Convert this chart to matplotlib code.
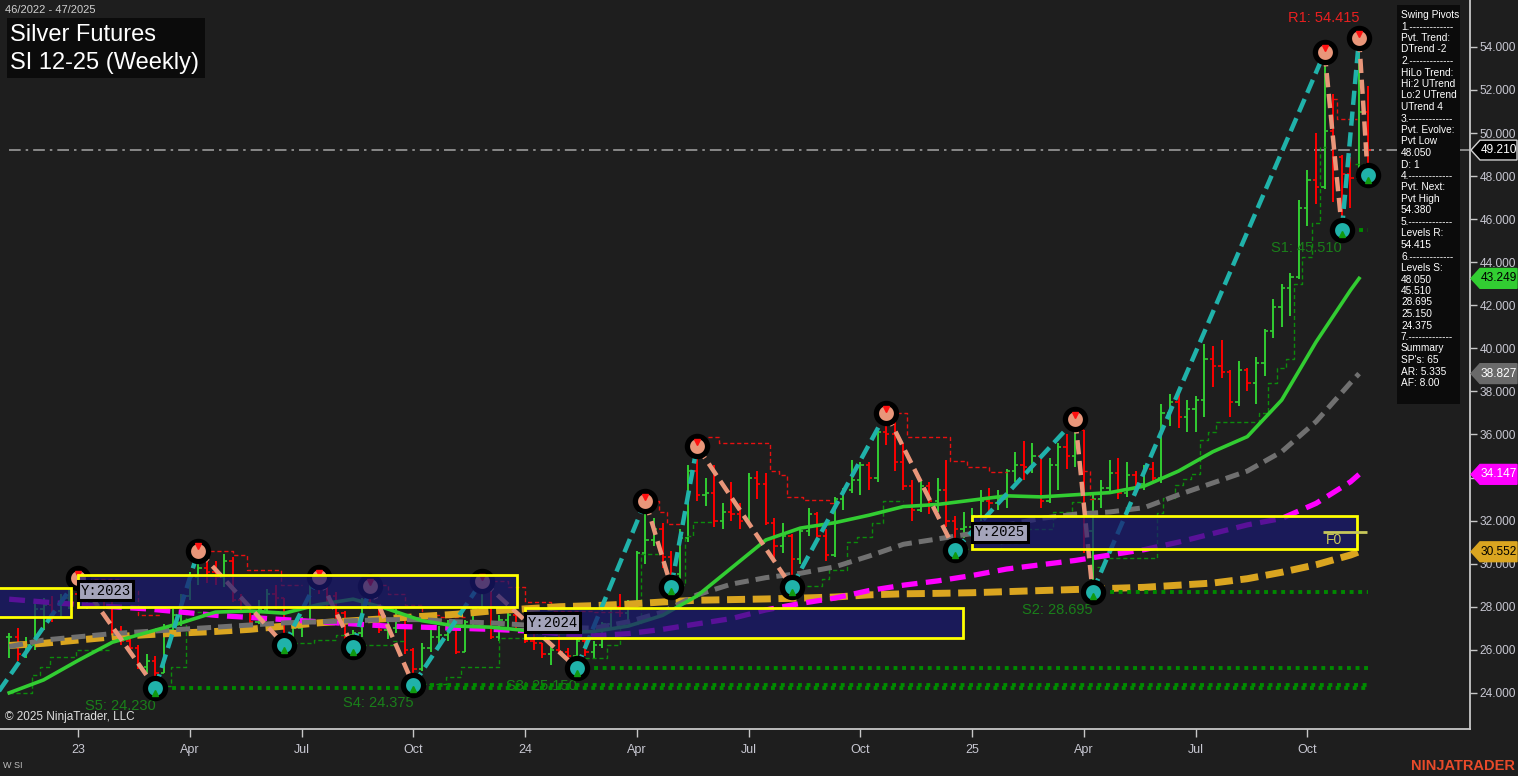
import numpy as np
import pandas as pd
import matplotlib
matplotlib.use("Agg")
import matplotlib.pyplot as plt
from matplotlib.patches import Rectangle, Polygon
from matplotlib import transforms
from matplotlib.ticker import FuncFormatter

plt.rcParams['font.family'] = ['Liberation Sans', 'DejaVu Sans']

# --- weekly OHLC bars (back-adjusted SI 12-25), first bar Fri 2022-11-11
first_bar = '2022-11-11'
bar_high = [26.8, 27.0, 26.6, 28.2, 28.4, 28.5, 28.6, 28.8, 29.34, 29.2,
            29.2, 29.2, 28.6, 27.1, 26.7, 26.2, 25.8, 25.7, 27.2, 27.9,
            28.6, 29.6, 30.6, 30.1, 30.1, 30.45, 30.3, 28.6, 28.1, 28.3,
            28.8, 29.0, 28.4, 27.2, 27.5, 29.2, 29.38, 29.2, 28.7, 27.8,
            26.9, 28.4, 28.97, 28.1, 27.4, 27.9, 27.6, 26.1, 26.3, 26.9,
            27.1, 27.4, 27.0, 27.4, 28.0, 29.2, 29.0, 27.6, 28.0, 27.8,
            27.2, 26.8, 26.3, 26.2, 26.8, 26.1, 26.5, 26.6, 26.4, 27.3,
            28.1, 28.6, 28.3, 30.6, 32.9, 32.1, 31.9, 30.6, 31.6, 34.6,
            35.45, 34.0, 34.6, 32.8, 33.8, 32.8, 34.2, 34.3, 34.2, 32.1,
            31.9, 31.4, 31.6, 32.6, 32.4, 31.6, 33.1, 33.5, 34.8, 34.7,
            34.7, 36.2, 37.0, 36.9, 35.6, 33.9, 33.9, 33.8, 34.0, 34.8,
            32.2, 32.4, 32.6, 33.4, 33.5, 33.4, 34.4, 35.2, 35.7, 35.6,
            35.1, 34.9, 35.6, 36.0, 36.7, 36.2, 33.3, 33.9, 34.8, 34.9,
            34.7, 34.3, 34.6, 34.7, 37.4, 37.9, 37.9, 37.6, 37.8, 40.2,
            40.1, 40.4, 39.0, 39.4, 39.1, 39.6, 40.9, 42.3, 43.0, 43.5,
            46.9, 48.3, 50.0, 53.75, 51.8, 49.0, 48.9, 54.415, 52.2]
bar_low = [25.6, 25.5, 25.6, 26.0, 26.9, 27.3, 27.5, 27.9, 27.9, 27.9,
           28.1, 27.9, 26.7, 26.2, 25.8, 25.1, 24.9, 24.23, 24.9, 26.8,
           27.1, 28.3, 29.0, 29.1, 29.0, 28.9, 28.2, 27.7, 26.9, 27.2,
           27.7, 27.9, 26.22, 26.3, 26.6, 27.3, 28.6, 27.9, 27.4, 26.5,
           26.13, 26.6, 27.9, 26.8, 26.5, 26.8, 25.8, 24.375, 25.0, 25.9,
           26.2, 26.4, 25.8, 25.9, 27.1, 27.7, 26.5, 26.4, 27.0, 27.0,
           26.3, 26.0, 25.6, 25.3, 25.8, 25.6, 25.15, 25.7, 25.6, 26.1,
           27.0, 27.5, 27.4, 28.0, 30.0, 30.8, 29.8, 28.93, 29.3, 31.0,
           32.9, 32.7, 31.7, 31.6, 32.0, 31.6, 31.8, 33.0, 31.8, 30.2,
           30.5, 28.92, 30.0, 31.3, 31.2, 30.1, 30.3, 32.5, 33.3, 33.2,
           33.4, 33.8, 35.5, 34.3, 33.4, 32.0, 32.4, 32.3, 32.4, 31.7,
           30.62, 31.2, 31.5, 32.0, 32.3, 32.5, 32.6, 33.8, 33.9, 34.2,
           32.6, 32.8, 33.4, 34.4, 34.5, 30.5, 28.695, 32.6, 33.3, 33.0,
           33.1, 33.2, 33.4, 33.8, 33.75, 36.4, 36.3, 36.1, 36.1, 36.8,
           38.2, 38.6, 36.8, 37.3, 38.0, 37.4, 38.7, 40.5, 41.0, 41.5,
           43.2, 45.7, 46.7, 47.4, 46.8, 45.51, 46.5, 47.8, 48.05]
bar_close = [26.6, 25.8, 26.2, 27.9, 28.1, 27.8, 28.4, 28.6, 28.4, 29.0,
             28.5, 28.3, 26.8, 26.4, 26.1, 25.2, 25.5, 24.9, 26.9, 27.6,
             28.5, 29.4, 29.8, 29.6, 29.4, 30.1, 28.3, 28.0, 27.3, 27.9,
             28.6, 28.4, 26.6, 27.0, 27.3, 29.1, 28.9, 28.5, 27.7, 26.7,
             26.8, 28.3, 28.1, 26.9, 27.0, 27.5, 26.0, 25.1, 26.1, 26.6,
             26.7, 26.9, 25.9, 27.3, 27.9, 28.9, 26.6, 27.4, 27.6, 27.1,
             26.4, 26.3, 25.8, 26.0, 25.9, 25.7, 26.4, 25.9, 26.2, 27.2,
             28.0, 27.7, 28.1, 30.5, 31.1, 31.6, 30.3, 29.5, 31.2, 34.3,
             33.2, 33.3, 32.0, 32.4, 32.3, 32.0, 34.0, 33.7, 31.9, 30.8,
             31.3, 30.2, 31.5, 32.3, 31.3, 30.4, 33.0, 33.4, 33.9, 34.6,
             34.0, 36.1, 36.0, 34.7, 33.6, 32.5, 33.6, 32.9, 33.4, 32.0,
             31.6, 31.7, 32.2, 32.9, 32.8, 33.0, 34.3, 34.6, 34.5, 35.0,
             32.9, 34.6, 35.4, 35.0, 36.2, 31.5, 33.0, 33.5, 34.2, 33.3,
             34.1, 33.7, 34.4, 34.0, 37.0, 37.5, 36.8, 37.2, 37.6, 39.5,
             39.2, 38.9, 37.5, 39.0, 38.4, 39.3, 40.8, 41.9, 42.8, 43.3,
             46.5, 47.8, 47.5, 50.1, 48.9, 48.1, 47.9, 51.0, 49.21]

# --- moving averages, read every 4 bars (bar offset from first 2023 bar)
ma_pos = list(range(-8, 149, 4)) + [149]
ma_green = [24.0, 24.6, 25.5, 26.35, 26.8, 27.25, 27.75, 27.8, 27.7, 28.1,
            28.35, 27.9, 27.35, 27.1, 27.05, 26.9, 26.8, 26.85, 27.1, 27.6,
            28.5, 29.8, 31.1, 31.65, 31.9, 32.25, 32.65, 32.75, 32.95, 33.15,
            33.1, 33.2, 33.3, 33.6, 34.3, 35.2, 35.9, 37.6, 40.3, 42.7, 43.249]
ma_grey = [26.15, 26.45, 26.6, 26.75, 26.85, 26.95, 27.05, 27.15, 27.25, 27.3,
           27.35, 27.4, 27.4, 27.3, 27.25, 27.15, 27.05, 27.0, 27.3, 27.75,
           28.55, 29.05, 29.35, 29.55, 29.85, 30.35, 30.9, 31.15, 31.4, 31.8,
           32.1, 32.3, 32.4, 32.6, 33.2, 33.75, 34.3, 35.2, 36.6, 38.4, 38.827]
ma_magenta = [28.35, 28.22, 28.1, 28.0, 27.9, 27.75, 27.6, 27.5, 27.4, 27.3,
              27.2, 27.1, 27.05, 27.0, 26.95, 26.88, 26.75, 26.65, 26.75, 26.95,
              27.2, 27.45, 27.85, 28.15, 28.4, 28.75, 29.0, 29.2, 29.45, 29.75,
              29.95, 30.15, 30.4, 30.65, 31.0, 31.4, 31.8, 32.1, 32.8, 33.8, 34.147]
ma_gold = [26.2, 26.3, 26.45, 26.6, 26.7, 26.78, 26.85, 26.95, 27.1, 27.25,
           27.35, 27.45, 27.55, 27.65, 27.8, 27.9, 28.0, 28.05, 28.12, 28.22,
           28.3, 28.33, 28.36, 28.4, 28.45, 28.55, 28.6, 28.62, 28.65, 28.7,
           28.75, 28.8, 28.85, 28.9, 29.0, 29.1, 29.3, 29.6, 29.95, 30.4, 30.552]

# --- swing pivots (alternating low / high)
piv_pos = [-13, 0, 9, 14, 24, 28, 32, 34, 39, 47, 58, 66, 69, 72, 83, 94,
           102, 116, 118, 145, 147, 149, 150]
piv_val = [21.9, 29.34, 24.23, 30.6, 26.22, 29.38, 26.13, 28.97, 24.375, 29.2,
           25.15, 32.9, 28.93, 35.45, 28.92, 37.0, 30.62, 36.7, 28.695, 53.75,
           45.51, 54.415, 48.05]

# --- support / resistance levels
lvl_name = ['R1', 'S1', 'S2', 'S3', 'S4', 'S5']
lvl_val = [54.415, 45.51, 28.695, 25.15, 24.375, 24.23]
lvl_from = [149, 147, 118, 58, 39, 9]

# --- trailing step lines (None = break)
red_trail = [(1, 29.3), (5, 28.75), (7, 27.6), (9.5, 27.6), None,
             (14.5, 30.6), (18, 30.4), (19.6, 29.7), (23.6, 29.0), (26, 29.0), None,
             (34.5, 29.0), (36, 28.6), (38, 28.1), (40, 27.6), (42, 27.5), (45, 27.5), None,
             (47.5, 29.2), (50, 28.9), (52, 28.2), (55, 27.8), (60, 27.75), (63, 27.75), None,
             (66.5, 32.9), (67.6, 32.4), (68.5, 31.85), (70, 31.85), None,
             (72.5, 35.9), (74.5, 35.6), (80.5, 34.3), (81.5, 34.1), (82.5, 33.1),
             (84.3, 32.95), (87.4, 32.8), (88.5, 32.8), None,
             (95.3, 37.0), (96.4, 35.9), (101.4, 34.75), (103.4, 34.5), (106, 34.26), (108, 34.26), None,
             (116.9, 34.3), (117.7, 33.0), (118.5, 33.0), None,
             (146, 51.6), (146.4, 50.65), (148.7, 50.65)]
green_trail = [(-8, 24.0), (-5.3, 24.83), (-4.4, 25.2), (-3.3, 25.65), (-0.2, 25.97), (3.7, 25.97), None,
               (9.5, 24.3), (10.8, 25.2), (12.6, 27.75), (16.5, 27.75), None,
               (25, 26.3), (27.5, 26.45), (30, 26.7), (32, 26.7), None,
               (33, 26.2), (36.6, 26.4), (38, 26.4), None,
               (40, 24.4), (42.8, 24.74), (44.5, 25.2), (49, 26.55), (52, 26.55), None,
               (59, 25.6), (61.5, 26.2), (63, 27.2), (65.5, 30.45), (67.5, 30.45), None,
               (70, 29.0), (70.6, 31.3), (71.5, 31.94), (74, 31.94), None,
               (84, 28.95), (86.5, 29.3), (87.4, 29.7), (89.4, 31.0), (90.6, 31.25),
               (92.4, 31.9), (93.6, 32.9), (96, 32.9), None,
               (103, 30.7), (107.4, 30.95), (110, 31.6), (113.4, 32.4), (115.6, 32.87), (117, 32.87), None,
               (118.5, 29.85), (119.2, 30.26), (125.5, 32.36), (126.2, 33.05), (127.6, 33.65),
               (128.5, 33.93), (129.5, 34.17), (130.5, 35.75), (131.4, 36.12), (132.4, 36.58),
               (137.4, 37.0), (138.4, 38.4), (139.5, 39.1), (140.5, 39.5), (141.4, 43.0),
               (142.4, 44.25), (143.5, 45.83), (144.5, 49.36), (145.2, 49.36), None,
               (148.5, 48.56), (149.5, 48.56)]

# --- yearly boxes
box_year = [2022, 2023, 2024, 2025]
box_start = [-20, 0, 52, 104]
box_end = [-0.85, 51.05, 102.95, 148.7]
box_lo = [27.53, 28.0, 26.55, 30.68]
box_hi = [28.87, 29.48, 27.94, 32.22]

last_price = 49.21
tag_vals = [49.21, 43.249, 38.827, 34.147, 30.552]
tag_face = ['#000000', '#32cd32', '#6a6a6a', '#ff00ff', '#daa520']
tag_text = ['white', 'black', 'white', 'white', 'black']

panel_lines = ["Swing Pivots", "1.-------------", "Pvt. Trend:", "DTrend -2",
               "2.-------------", "HiLo Trend:", "Hi:2 UTrend", "Lo:2 UTrend",
               "UTrend 4", "3.-------------", "Pvt. Evolve:", "Pvt Low", "48.050",
               "D: 1", "4.-------------", "Pvt. Next:", "Pvt High", "54.380",
               "5.-------------", "Levels R:", "54.415", "6.-------------",
               "Levels S:", "48.050", "45.510", "28.695", "25.150", "24.375",
               "7.-------------", "Summary", "SP's: 65", "AR: 5.335", "AF: 8.00"]

BG = '#1e1e1e'
W, H = 1518, 776
fig = plt.figure(figsize=(W / 100, H / 100), dpi=100)
fig.patch.set_facecolor(BG)
ax = fig.add_axes([0, 47 / H, 1470 / W, 729 / H])
ax.set_facecolor(BG)

n = len(bar_close)
dates = pd.date_range(first_bar, periods=n, freq='W-FRI')
first23 = int(np.argmax(dates.year == 2023))
pos = np.arange(n) - first23

hi = np.array(bar_high)
lo = np.array(bar_low)
cl = np.array(bar_close)
op = np.r_[cl[0], cl[:-1]]
cols = np.where(cl >= op, '#32cd32', '#ff0000')

# bars
ax.vlines(pos, lo, hi, colors=cols, lw=1.4, zorder=2)
ax.hlines(op, pos - 0.38, pos, colors=cols, lw=1.2, zorder=2)
ax.hlines(cl, pos, pos + 0.38, colors=cols, lw=1.2, zorder=2)


def trail_xy(pts):
    xs, ys = [], []
    for p in pts:
        if p is None:
            xs.append(np.nan)
            ys.append(np.nan)
        else:
            xs.append(p[0])
            ys.append(p[1])
    return xs, ys


rx, ry = trail_xy(red_trail)
ax.step(rx, ry, where='post', color='#e81010', lw=1.0, ls=(0, (3, 2)), zorder=2.2)
gx, gy = trail_xy(green_trail)
ax.step(gx, gy, where='post', color='#0c8c0c', lw=1.0, ls=(0, (3, 2)), zorder=2.2)

# last price line
ax.hlines(last_price, pos[0], 170, color='#9a9a9a', lw=1.2,
          ls=(0, (7, 3, 1.5, 3)), zorder=1.5)

# moving averages
ax.plot(ma_pos, ma_gold, color='#daa520', lw=5, ls=(0, (2.6, 1.1)), zorder=3)
ax.plot(ma_pos, ma_magenta, color='#ff00ff', lw=3.8, ls=(0, (3, 1.6)), zorder=3.1)
ax.plot(ma_pos, ma_grey, color='#707070', lw=3.6, ls=(0, (2.8, 1.4)), zorder=3.2)
ax.plot(ma_pos, ma_green, color='#32cd32', lw=2.6, zorder=3.3)

# support / resistance dotted lines and labels
for name, v, start in zip(lvl_name, lvl_val, lvl_from):
    if name.startswith('S'):
        ax.hlines(v, start, pos[-1], color='#008a00', lw=2.8,
                  ls=(0, (1, 1.2)), zorder=3.5)
        ax.text(start, v - 0.85, f"{name}: {v:.3f}", color='#1a7f1a', fontsize=10.5,
                ha='right', va='center', zorder=3.4)
    else:
        ax.hlines(v, start, pos[-1], color='#ff0000', lw=1.5,
                  ls=(0, (1, 1.5)), zorder=3.5)
        ax.text(start, v + 0.94, f"{name}: {v:.3f}", color='#e82020', fontsize=10.5,
                ha='right', va='center', zorder=3.4)

# zigzag
for i in range(len(piv_pos) - 1):
    up = piv_val[i + 1] > piv_val[i]
    ax.plot(piv_pos[i:i + 2], piv_val[i:i + 2], color='#20b2aa' if up else '#e9967a',
            lw=3.2, ls=(0, (3.2, 1.5)), zorder=4, solid_capstyle='butt')

# pivot circles
for i, (p, v) in enumerate(zip(piv_pos, piv_val)):
    is_high = i % 2 == 1
    ax.plot(p, v, 'o', ms=14.5, mew=3.8, mec='black',
            mfc='#e9967a' if is_high else '#20b2aa', zorder=5)
    if is_high:
        ax.plot(p, v + 0.2, 'v', ms=4.5, color='#ff1010', zorder=5.1)
    else:
        ax.plot(p, v - 0.22, '^', ms=4.5, color='#109a10', zorder=5.1)

# yearly boxes
for yr, x0, x1, b0, b1 in zip(box_year, box_start, box_end, box_lo, box_hi):
    ax.add_patch(Rectangle((x0, b0), x1 - x0, b1 - b0, fc='#191970', ec='none',
                           alpha=0.72, zorder=6))
    ax.add_patch(Rectangle((x0, b0), x1 - x0, b1 - b0, fc='none', ec='#ffff00',
                           lw=2, zorder=6.1))
    if x0 >= -8:
        ax.text(x0 + 0.3, (b0 + b1) / 2, f"Y:{yr}", family=['Liberation Mono', 'DejaVu Sans Mono'],
                fontsize=10, color='black', ha='left', va='center', zorder=7,
                bbox=dict(boxstyle='square,pad=0.18', fc='#a4a4ba', ec='black', lw=2.2))

# F0 marker
f0_val = (box_lo[-1] + box_hi[-1]) / 2
ax.hlines(f0_val, 144.8, 149.9, color='#c8c85a', lw=2, zorder=7)
ax.text(145.1, f0_val - 0.35, "F0", color='#c8c85a', fontsize=10, va='center', zorder=7)

# axes
ax.set_xlim(-9.07, 161.9)
ax.set_ylim(22.32, 56.18)
ax.yaxis.tick_right()
ax.set_yticks(np.arange(24, 55, 2))
# the 34.000 label sits under the magenta price tag in the reference
ax.yaxis.set_major_formatter(FuncFormatter(lambda v, p: '' if abs(v - 34) < 0.01 else f"{v:.3f}"))
tick_pos, tick_lab = [], []
for i in range(n):
    m = dates[i].month
    if m in (1, 4, 7, 10) and (i == 0 or dates[i - 1].month != m):
        tick_pos.append(pos[i])
        tick_lab.append(f"{dates[i].year % 100:02d}" if m == 1 else dates[i].strftime('%b'))
ax.set_xticks(tick_pos)
ax.set_xticklabels(tick_lab)
ax.tick_params(axis='y', colors='#c8c8c8', labelcolor='#c8c8d2', length=5, width=1,
               pad=2, labelsize=8.6)
ax.tick_params(axis='x', colors='#c8c8c8', labelcolor='#c8c8d2', length=6, width=1,
               pad=5, labelsize=9)
for s in ['left', 'top']:
    ax.spines[s].set_visible(False)
for s in ['right', 'bottom']:
    ax.spines[s].set_color('#c8c8c8')
    ax.spines[s].set_linewidth(1.3)

# price tags on right axis
tr = transforms.blended_transform_factory(fig.transFigure, ax.transData)
for v, fc, tc in zip(tag_vals, tag_face, tag_text):
    h = 0.46
    pts = [(1471 / W, v), (1480 / W, v + h), (1517 / W, v + h), (1517 / W, v - h), (1480 / W, v - h)]
    ax.add_patch(Polygon(pts, closed=True, transform=tr, fc=fc,
                         ec='#d0d0d0' if fc == '#000000' else fc, lw=1, clip_on=False, zorder=10))
    ax.text(1498.5 / W, v, f"{v:.3f}", transform=tr, color=tc, fontsize=8.6,
            ha='center', va='center', clip_on=False, zorder=11)


def fx(px):
    return px / W


def fy(py):
    return 1 - py / H


# swing pivots panel
fig.add_artist(Rectangle((fx(1397), fy(404)), 63 / W, 399 / H, transform=fig.transFigure,
                         fc='#0b0b0b', ec='none', zorder=20))
for i, line in enumerate(panel_lines):
    fig.text(fx(1401), fy(15 + i * 11.5), line, color='white', fontsize=7.3,
             va='center', ha='left', zorder=21)

# title
fig.add_artist(Rectangle((fx(7), fy(78)), 198 / W, 60 / H, transform=fig.transFigure,
                         fc='#0b0b0b', ec='none', zorder=20))
fig.text(fx(10), fy(35), "Silver Futures", color='white', fontsize=17, va='center', zorder=21)
fig.text(fx(10), fy(63), "SI 12-25 (Weekly)", color='white', fontsize=17, va='center', zorder=21)
fig.text(fx(5), fy(10), "46/2022 - 47/2025", color='#d0d0d0', fontsize=8, va='center')
fig.text(fx(5), fy(717), "\u00a9 2025 NinjaTrader, LLC", color='#e0e0e0', fontsize=8.5,
         va='center', zorder=21)
fig.text(fx(3), fy(766), "W SI", color='#c0c0c0', fontsize=6.5, va='center')
fig.text(fx(1515), fy(766), "NINJATRADER", color='#e84a2a', fontsize=10.5,
         fontweight='bold', ha='right', va='center')

fig.savefig('out.png', dpi=100, facecolor=fig.get_facecolor())
